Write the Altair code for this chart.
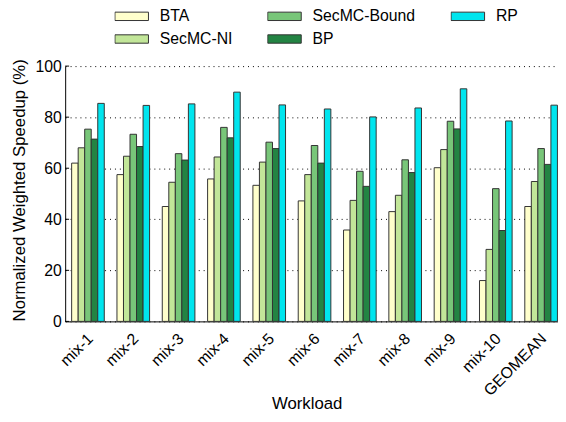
import altair as alt
import pandas as pd

workloads = ["mix-1", "mix-2", "mix-3", "mix-4", "mix-5", "mix-6", "mix-7",
             "mix-8", "mix-9", "mix-10", "GEOMEAN"]
series = ["BTA", "SecMC-NI", "SecMC-Bound", "BP", "RP"]
bta = [62, 57.5, 45, 55.8, 53.3, 47.2, 35.8, 43, 60.2, 16, 45]
secmc_ni = [68, 64.7, 54.5, 64.4, 62.4, 57.5, 47.4, 49.4, 67.3, 28.2, 54.8]
secmc_bound = [75.3, 73.3, 65.7, 76, 70.2, 68.9, 58.8, 63.3, 78.4, 52, 67.7]
bp = [71.4, 68.5, 63.2, 71.9, 67.7, 62, 52.9, 58.3, 75.4, 35.6, 61.5]
rp = [85.4, 84.6, 85.2, 89.8, 84.8, 83.2, 80.1, 83.6, 91.1, 78.5, 84.7]
colors = ["#ffffcc", "#c2e699", "#78c679", "#238443", "#00e5ee"]
y_ticks = [0, 20, 40, 60, 80, 100]

rows = []
for s, vals in zip(series, [bta, secmc_ni, secmc_bound, bp, rp]):
    for w, v in zip(workloads, vals):
        rows.append({"workload": w, "series": s, "value": v})
df = pd.DataFrame(rows)

FONT = "Liberation Sans"

y_axis = alt.Axis(values=y_ticks, title="Normalized Weighted Speedup (%)",
                  grid=True, gridColor="black", gridDash=[1, 4], gridOpacity=1,
                  ticks=False, tickSize=0, labelPadding=4, labelFontSize=16,
                  titleFontSize=17,
                  titleX=-46, titleY=125.5, titleAngle=-90, titleAlign="center",
                  titleBaseline="middle")

bars = alt.Chart(df).mark_bar(stroke="#333333", strokeWidth=1).encode(
    x=alt.X(
        "workload:N", sort=workloads,
        scale=alt.Scale(range=[0, 506], paddingInner=0.28, paddingOuter=0.143),
        axis=alt.Axis(title="Workload", labelAngle=-45, labelAlign="right",
                      labelBaseline="top", labelPadding=9, labelOffset=-3,
                      labelFontSize=16, titleFontSize=17,
                      ticks=False, tickSize=0,
                      titleX=245, titleY=88, titleBaseline="alphabetic",
                      titleAlign="center"),
    ),
    xOffset=alt.XOffset("series:N", sort=series,
                        scale=alt.Scale(paddingInner=0, paddingOuter=0)),
    y=alt.Y("value:Q", scale=alt.Scale(domain=[0, 100]), axis=y_axis),
    color=alt.Color(
        "series:N",
        scale=alt.Scale(domain=series, range=colors),
        legend=alt.Legend(title=None, orient="none", legendX=50, legendY=-58.5,
                          columns=3, columnPadding=35, rowPadding=7, clipHeight=16,
                          symbolType="M-1,-0.25L1,-0.25L1,0.25L-1,0.25Z",
                          symbolSize=1156, symbolStrokeColor="#333333",
                          symbolStrokeWidth=1, symbolOpacity=1,
                          labelFontSize=16, labelFont=FONT, labelOffset=11,
                          padding=0, symbolOffset=0, labelColor="black"),
    ),
)

tick_df = pd.DataFrame({"value": y_ticks})
tick_rules = alt.Chart(tick_df).mark_rule(color="black", strokeWidth=1).encode(
    y=alt.Y("value:Q", axis=y_axis),
    x=alt.value(0),
    x2=alt.value(4),
)

chart = alt.layer(bars, tick_rules).properties(
    width=500, height=259,
    autosize=alt.AutoSizeParams(type="none"),
    padding={"left": 58, "top": 56, "right": 0, "bottom": 91},
    background="white",
).configure_view(stroke=None).configure_axis(
    labelFont=FONT, titleFont=FONT,
    titleFontWeight="normal", labelColor="black", titleColor="black",
    domainColor="black", domainWidth=1,
)

chart.save("out.html", embed_options={"renderer": "svg", "actions": False})
